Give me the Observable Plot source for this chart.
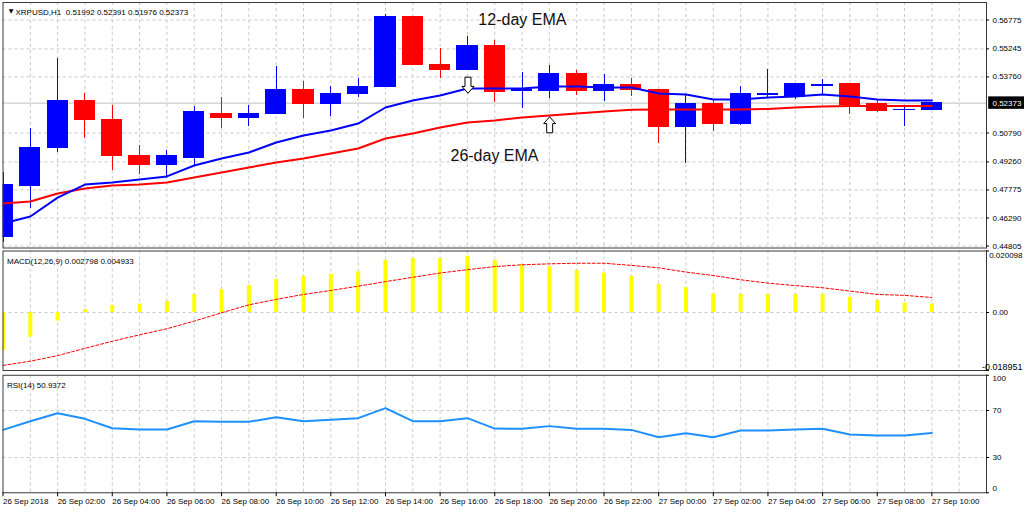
<!DOCTYPE html>
<html>
<head>
<meta charset="utf-8">
<script src="https://cdn.jsdelivr.net/npm/d3@7"></script>
<script src="https://cdn.jsdelivr.net/npm/@observablehq/plot@0.6"></script>
<style>
  html, body { margin: 0; padding: 0; background: #fff; overflow: hidden; }
  #chart { width: 1024px; height: 512px; position: relative; overflow: hidden; background: #fff; }
  #chart svg { display: block; max-width: none; }
</style>
</head>
<body>
<div id="chart"></div>
<script>
// ---------------- data ----------------
const symbolTitle = "XRPUSD,H1\u00a0 0.51992 0.52391 0.51976 0.52373";
const macdTitle = "MACD(12,26,9) 0.002798 0.004933";
const rsiTitle = "RSI(14) 50.9372";
const xTickLabels = ["26 Sep 2018","26 Sep 02:00","26 Sep 04:00","26 Sep 06:00","26 Sep 08:00","26 Sep 10:00",
  "26 Sep 12:00","26 Sep 14:00","26 Sep 16:00","26 Sep 18:00","26 Sep 20:00","26 Sep 22:00",
  "27 Sep 00:00","27 Sep 02:00","27 Sep 04:00","27 Sep 06:00","27 Sep 08:00","27 Sep 10:00"];

const open  = [0.4526,0.4796,0.4997,0.5251,0.5147,0.4955,0.4907,0.4949,0.5182,0.5156,0.5177,0.5309,0.5230,0.5283,0.5320,0.5696,0.5437,0.5415,0.5542,0.5299,0.5301,0.5394,0.5304,0.5331,0.5309,0.5113,0.5235,0.5129,0.5278,0.5272,0.5328,0.5336,0.5230,0.5199,0.51992];
const high  = [0.4870,0.5103,0.5474,0.5288,0.5225,0.5013,0.4986,0.5219,0.5267,0.5225,0.5431,0.5352,0.5325,0.5368,0.5707,0.5697,0.5527,0.5590,0.5569,0.5399,0.5437,0.5410,0.5389,0.5368,0.5312,0.5278,0.5251,0.5325,0.5415,0.5337,0.5362,0.5341,0.5251,0.5225,0.52391];
const low   = [0.4499,0.4679,0.4976,0.5050,0.4880,0.4859,0.4838,0.4907,0.5103,0.5113,0.5175,0.5156,0.5166,0.5267,0.5318,0.5436,0.5368,0.5414,0.5241,0.5209,0.5262,0.5278,0.5246,0.5272,0.5023,0.4917,0.5087,0.5119,0.5262,0.5256,0.5278,0.5177,0.5190,0.5113,0.51976];
const close = [0.4801,0.5002,0.5251,0.5147,0.4955,0.4912,0.4955,0.5188,0.5156,0.5177,0.5309,0.5230,0.5283,0.5325,0.5696,0.5437,0.5415,0.5542,0.5294,0.5309,0.5394,0.5304,0.5331,0.5309,0.5113,0.5235,0.5129,0.5283,0.5283,0.5336,0.5331,0.5225,0.5193,0.5202,0.52373];

const ema12 = [0.4600,0.4637,0.4737,0.4806,0.4817,0.4833,0.4849,0.4907,0.4944,0.4976,0.5029,0.5066,0.5092,0.5129,0.5214,0.5251,0.5278,0.5315,0.5315,0.5315,0.5325,0.5325,0.5320,0.5320,0.5288,0.5283,0.5257,0.5257,0.5267,0.5272,0.5283,0.5272,0.5257,0.5251,0.5251];
const ema26 = [0.4706,0.4716,0.4759,0.4785,0.4801,0.4806,0.4817,0.4843,0.4870,0.4896,0.4923,0.4944,0.4970,0.4997,0.5050,0.5076,0.5108,0.5135,0.5145,0.5161,0.5172,0.5182,0.5193,0.5202,0.5204,0.5204,0.5204,0.5204,0.5206,0.5214,0.5219,0.5222,0.5222,0.5222,0.5222];

const macd   = [-0.0124,-0.0081,-0.0028,0.0010,0.0023,0.0028,0.0036,0.0059,0.0074,0.0088,0.0108,0.0118,0.0125,0.0133,0.0170,0.0176,0.0176,0.0184,0.0170,0.0156,0.0150,0.0137,0.0129,0.0118,0.0092,0.0081,0.0061,0.0059,0.0059,0.0059,0.0059,0.0050,0.0039,0.0031,0.0028];
const signal = [-0.0173,-0.0159,-0.0141,-0.0117,-0.0094,-0.0073,-0.0053,-0.0028,-0.0001,0.0025,0.0043,0.0059,0.0072,0.0086,0.0101,0.0115,0.0129,0.0140,0.0150,0.0156,0.0159,0.0161,0.0161,0.0154,0.0146,0.0132,0.0121,0.0107,0.0096,0.0088,0.0081,0.0070,0.0059,0.0056,0.0049];

const rsi = [53.5,60.9,67.7,62.9,54.9,53.8,53.8,60.9,60.4,60.4,64.3,60.9,62.1,63.5,72.0,60.9,60.9,63.5,54.6,54.4,56.7,54.4,54.4,53.5,47.3,50.7,47.3,53.0,53.0,53.8,54.4,49.6,48.7,48.7,50.9];

const priceTicks = [0.56775,0.55245,0.53760,0.50790,0.49260,0.47775,0.46290,0.44805];
const macdTicks = [0.020098, 0, -0.018951];
const rsiTicks = [100, 70, 30, 0];

// ---------------- styling ----------------
const FONT = "'Liberation Sans', Arial, sans-serif";
const BLUE = "#0000ff", RED = "#ff0000", GRIDC = "#c8c8c8", FRAME = "#3a3a3a";
const N = open.length;
const hourGrid = d3.range(1, N + 1);
const gridStyle = {stroke: GRIDC, strokeDasharray: "3,3", strokeWidth: 1};
const base = {
  width: 1024, marginLeft: 2.5, marginRight: 38,
  x: {domain: [0, N + 1], axis: null},
  color: {type: "identity"},
  style: {fontFamily: FONT, fontSize: "8px", color: "#000", background: "transparent", overflow: "visible"}
};

const candles = open.map((o, i) => ({i, o, h: high[i], l: low[i], c: close[i], col: close[i] >= o ? BLUE : RED}));

const arrowDown = {draw(ctx, size) {
  const s = Math.sqrt(size / Math.PI);
  ctx.moveTo(-0.375*s, -s); ctx.lineTo(0.375*s, -s); ctx.lineTo(0.375*s, 0.15*s);
  ctx.lineTo(0.75*s, 0.15*s); ctx.lineTo(0, s); ctx.lineTo(-0.75*s, 0.15*s);
  ctx.lineTo(-0.375*s, 0.15*s); ctx.closePath();
}};
const arrowUp = {draw(ctx, size) {
  const s = Math.sqrt(size / Math.PI);
  ctx.moveTo(-0.375*s, s); ctx.lineTo(0.375*s, s); ctx.lineTo(0.375*s, -0.15*s);
  ctx.lineTo(0.75*s, -0.15*s); ctx.lineTo(0, -s); ctx.lineTo(-0.75*s, -0.15*s);
  ctx.lineTo(-0.375*s, -0.15*s); ctx.closePath();
}};

// right-side labels helper
function rightLabels(values, fmt, dys, anchors, sizes) {
  return [
    Plot.ruleY(values, {y: d => d, x1: N + 1, x2: N + 1.11, stroke: "#000"}),
    ...values.map((v, k) => Plot.text([v], {
      x: N + 1, y: d => d, text: fmt, dx: anchors && anchors[k] === "end" ? 36 : 6,
      dy: dys ? dys[k] : 0, textAnchor: anchors ? anchors[k] : "start", fill: "#000",
      fontSize: sizes ? sizes[k] : 8
    }))
  ];
}

// ---------------- main price panel ----------------
const main = Plot.plot({
  ...base, height: 249, marginTop: 2, marginBottom: 1.5,
  y: {domain: [0.44699, 0.57702], axis: null},
  marks: [
    Plot.ruleX(hourGrid, gridStyle),
    Plot.ruleY(priceTicks, gridStyle),
    Plot.ruleY([close[N - 1]], {stroke: "#c0c0c0"}),
    Plot.ruleX(candles, {x: "i", y1: "l", y2: "h", stroke: "col", clip: true, shapeRendering: "crispEdges"}),
    Plot.rect(candles, {x1: d => d.i - 0.37, x2: d => d.i + 0.37, y1: "o", y2: "c", fill: "col", stroke: "col", clip: true, shapeRendering: "crispEdges"}),
    Plot.line(ema26, {x: (d, i) => i, y: d => d, stroke: RED, strokeWidth: 2, clip: true}),
    Plot.line(ema12, {x: (d, i) => i, y: d => d, stroke: BLUE, strokeWidth: 2, clip: true}),
    Plot.dot([0.53322], {x: 17.02, y: d => d, r: 8, symbol: arrowDown, fill: "white", stroke: "black", strokeWidth: 1}),
    Plot.dot([0.51224], {x: 20.01, y: d => d, r: 8, symbol: arrowUp, fill: "white", stroke: "black", strokeWidth: 1}),
    Plot.text(["12-day EMA"], {x: 17.4, y: 0.56791, text: d => d, textAnchor: "start", fontSize: 16, fill: "#111"}),
    Plot.text(["26-day EMA"], {x: 16.38, y: 0.49598, text: d => d, textAnchor: "start", fontSize: 16, fill: "#111"}),
    Plot.frame({stroke: FRAME}),
    ...rightLabels(priceTicks, d => d.toFixed(5)),
    Plot.rect([close[N - 1]], {x1: N + 1.08, x2: N + 2.5, y1: d => d - 0.0033, y2: d => d + 0.0033, fill: "#000"}),
    Plot.text([close[N - 1]], {x: N + 1, y: d => d, text: d => d.toFixed(5), dx: 6, textAnchor: "start", fill: "#fff"}),
    Plot.text(["\u25BC"], {frameAnchor: "top-left", dx: 5.8, dy: 6.5, fontSize: 6, fill: "#000", fontFamily: "DejaVu Sans"}),
    Plot.text([symbolTitle], {frameAnchor: "top-left", dx: 12.5, dy: 6.5, textAnchor: "start", fill: "#000"})
  ]
});

// ---------------- MACD panel ----------------
const macdPlot = Plot.plot({
  ...base, height: 122, marginTop: 1.5, marginBottom: 1,
  y: {domain: [-0.018951, 0.020098], axis: null},
  marks: [
    Plot.ruleX(hourGrid, gridStyle),
    Plot.ruleY([0], gridStyle),
    Plot.ruleX(macd, {x: (d, i) => i, y1: 0, y2: d => d, stroke: "#ffff00", strokeWidth: 4, clip: true}),
    Plot.line(signal, {x: (d, i) => i, y: d => d, stroke: RED, strokeWidth: 1, strokeDasharray: "3,2", clip: true}),
    Plot.frame({stroke: FRAME}),
    Plot.text([macdTitle], {frameAnchor: "top-left", dx: 4, dy: 7, textAnchor: "start", fill: "#000"}),
    ...rightLabels(macdTicks, d => d === 0 ? "0.00" : d.toFixed(6), [4.5, 0, -3.3], ["end", "start", "end"], [8, 8, 9])
  ]
});

// ---------------- RSI panel ----------------
const rsiPlot = Plot.plot({
  ...base, height: 141, marginTop: 3.75, marginBottom: 19.75,
  y: {domain: [0, 100], axis: null},
  marks: [
    Plot.ruleX(hourGrid, gridStyle),
    Plot.ruleY([70, 30], gridStyle),
    Plot.line(rsi, {x: (d, i) => i, y: d => d, stroke: "#1e90ff", strokeWidth: 2, clip: true}),
    Plot.frame({stroke: FRAME}),
    Plot.text([rsiTitle], {frameAnchor: "top-left", dx: 4, dy: 7, textAnchor: "start", fill: "#000"}),
    ...rightLabels(rsiTicks, d => String(d), [3.3, 0, 0, -4.2]),
    Plot.axisX({
      anchor: "bottom", ticks: xTickLabels.map((_, k) => 2 * k), tickFormat: d => xTickLabels[d / 2],
      textAnchor: "start", tickSize: 4, tickPadding: 2, fontSize: 8, stroke: "#000", fill: "#000", label: null
    })
  ]
});

const root = document.getElementById("chart");
root.append(main, macdPlot, rsiPlot);
</script>
</body>
</html>
